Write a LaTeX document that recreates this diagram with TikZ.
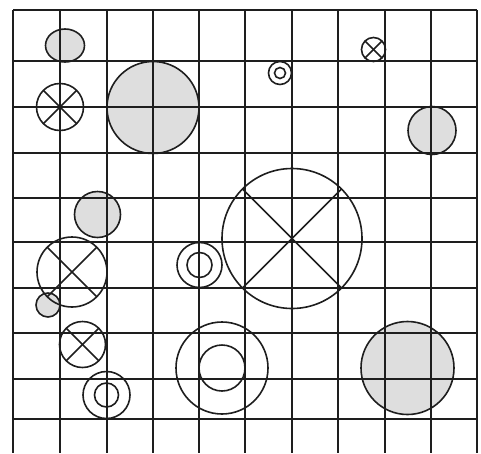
\documentclass[tikz,border=0pt]{standalone}
\usepackage{tikz}
\definecolor{scheibe}{RGB}{222,222,222}
\definecolor{strich}{RGB}{30,30,30}
% Kreis mit Kreuz: Mittelpunkt, Radius
\newcommand{\kreuzkreis}[2]{%
  \draw[ring] (#1) circle (#2);
  \draw[ring] (#1) ++(45:#2) -- ++(225:2*#2);
  \draw[ring] (#1) ++(135:#2) -- ++(315:2*#2);}
% Doppelkreis: Mittelpunkt, aussen, innen
\newcommand{\doppelkreis}[3]{%
  \draw[ring] (#1) circle (#2);
  \draw[ring] (#1) circle (#3);}

\begin{document}
\begin{tikzpicture}[x=1pt, y=-1pt,
    disc/.style={draw=strich, fill=scheibe, line width=1.6pt},
    ring/.style={draw=strich, line width=1.6pt},
    gitter/.style={draw=strich, line width=1.8pt}]
  \useasboundingbox (0,0) rectangle (481,453);
  % graue Scheiben (unter dem Raster)
  \draw[disc] (65,45.5) ellipse (19.5 and 16.5);
  \draw[disc] (153,107.5) circle (46);
  \draw[disc] (97.5,214.5) circle (23);
  \draw[disc] (432,130.5) circle (24);
  \draw[disc] (48,305) circle (12);
  \draw[disc] (407.5,368) circle (46.5);
  % Raster zeichnen
  \foreach \x in {13,60,107,153,199,245,292,338,385,431,477}
    \draw[gitter] (\x,10) -- (\x,453);
  \foreach \y in {10,61,107,153,198,242,288,333,379,419}
    \draw[gitter] (13,\y) -- (477,\y);
  % Kreise mit Kreuz
  \kreuzkreis{60,107}{23.5}
  \kreuzkreis{373.5,49.5}{12}
  \kreuzkreis{292,238.5}{70}
  \kreuzkreis{72,272}{35}
  \kreuzkreis{82.5,344.5}{23}
  % Doppelkreise
  \doppelkreis{280,73}{11.5}{5.5}
  \doppelkreis{199.5,265}{22.5}{12.5}
  \doppelkreis{106.5,395}{23.5}{12}
  \doppelkreis{222,368}{46}{23}
\end{tikzpicture}
\end{document}
